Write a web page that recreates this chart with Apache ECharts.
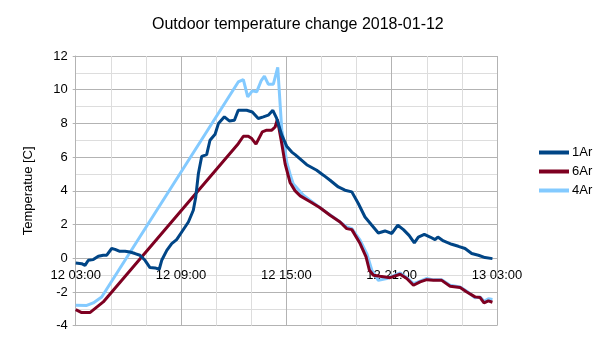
<!DOCTYPE html>
<html><head><meta charset="utf-8">
<script src="https://cdn.jsdelivr.net/npm/echarts@6/dist/echarts.min.js"></script>
<style>html,body{margin:0;padding:0;background:#fff}#c{width:605px;height:340px}</style>
</head><body><div id="c"></div>
<script>
// hours since 12 03:00
const xTickLabels = ['12 03:00','12 09:00','12 15:00','12 21:00','13 03:00'];
const yTicks = [-4,-2,0,2,4,6,8,10,12];

const t1Ar = [0.0,0.34,0.53,0.72,1.0,1.29,1.57,1.77,2.05,2.24,2.48,2.81,3.09,3.38,3.66,3.95,4.23,4.52,4.76,4.90,5.19,5.47,5.75,6.04,6.42,6.70,6.84,6.99,7.18,7.46,7.65,7.94,8.13,8.47,8.75,9.04,9.26,9.74,10.06,10.40,10.69,10.97,11.23,11.45,11.74,12.02,12.31,12.50,13.16,13.73,14.11,14.49,14.96,15.34,15.73,16.10,16.48,16.87,17.24,17.62,18.01,18.35,18.67,18.99,19.29,19.52,19.86,20.19,20.47,20.63,20.95,21.42,21.80,22.18,22.56,22.94,23.32,23.74];
const v1Ar = [-0.28,-0.32,-0.42,-0.12,-0.08,0.12,0.18,0.18,0.58,0.53,0.42,0.42,0.37,0.28,0.18,-0.12,-0.55,-0.57,-0.65,-0.12,0.47,0.87,1.11,1.56,2.15,2.85,3.64,5.03,6.05,6.15,7.0,7.36,7.99,8.39,8.15,8.19,8.78,8.78,8.68,8.29,8.39,8.49,8.78,8.3,7.3,6.65,6.3,6.15,5.55,5.22,4.93,4.63,4.23,4.04,3.94,3.25,2.45,1.96,1.5,1.62,1.47,1.96,1.7,1.36,0.91,1.26,1.42,1.26,1.11,1.26,1.03,0.83,0.71,0.58,0.28,0.18,0.04,-0.02];

const t6Ar = [0.0,0.34,0.81,1.57,9.26,9.55,9.83,10.03,10.27,10.63,10.88,11.17,11.36,11.49,11.74,11.93,12.21,12.50,12.79,13.36,13.92,14.49,15.06,15.44,15.73,16.20,16.54,16.73,16.96,17.34,17.91,18.48,18.86,19.24,19.62,20.0,20.38,20.85,21.33,21.90,22.28,22.75,23.04,23.26,23.51,23.74];
const v6Ar = [-3.05,-3.22,-3.22,-2.59,6.8,7.24,7.24,7.1,6.77,7.5,7.6,7.6,7.79,8.23,6.8,5.6,4.5,4.0,3.7,3.35,3.0,2.55,2.15,1.76,1.7,0.87,0.08,-0.71,-1.01,-1.07,-1.15,-0.95,-1.2,-1.6,-1.4,-1.27,-1.31,-1.31,-1.66,-1.74,-2.0,-2.29,-2.33,-2.65,-2.53,-2.61];

const t4Ar = [0.0,0.63,1.0,1.48,9.26,9.55,9.80,10.06,10.31,10.56,10.75,10.97,11.26,11.51,11.74,11.85,12.02,12.21,12.40,12.97,13.54,14.11,14.87,15.44,15.73,16.20,16.58,16.87,17.24,17.72,18.08,18.48,18.86,19.24,19.62,20.0,20.38,20.85,21.33,21.90,22.28,22.75,23.04,23.26,23.51,23.74];
const v4Ar = [-2.79,-2.8,-2.65,-2.3,10.46,10.6,9.57,9.93,9.87,10.52,10.8,10.33,10.33,11.32,7.6,7.0,5.7,5.0,4.4,3.74,3.3,2.85,2.3,1.86,1.76,1.07,0.28,-0.71,-1.31,-1.2,-1.05,-0.87,-1.15,-1.5,-1.35,-1.2,-1.28,-1.28,-1.6,-1.7,-1.95,-2.35,-2.3,-2.55,-2.4,-2.45];

const zip = (t, v) => t.map((x, i) => [x, v[i]]);
const FONT = '"Liberation Sans", Arial, sans-serif';
const GRID = {left: 75.7, right: 108, top: 56, bottom: 14.3};
const PLOT_H = 340 - GRID.top - GRID.bottom;
const yMin = yTicks[0], yMax = yTicks[yTicks.length - 1];
// place the time axis on the zero line of the value axis
const zeroOffset = -((0 - yMin) / (yMax - yMin)) * PLOT_H;

const chart = echarts.init(document.getElementById('c'), null, {renderer: 'canvas'});
const mkSeries = (name, t, v, color) => ({
  name, type: 'line', data: zip(t, v), showSymbol: false, symbol: 'none',
  lineStyle: {color, width: 3}, itemStyle: {color}, animation: false
});
chart.setOption({
  animation: false,
  title: {text: 'Outdoor temperature change 2018-01-12', left: 147, top: 12,
    textStyle: {fontFamily: FONT, fontSize: 16, fontWeight: 'normal', color: '#000'}},
  legend: {orient: 'vertical', left: 539, top: 146, padding: 0, itemWidth: 30, itemHeight: 4, itemGap: 6,
    icon: 'rect', data: ['1Ar','6Ar','4Ar'],
    textStyle: {fontFamily: FONT, fontSize: 13, color: '#000', padding: [0,0,0,-2]}},
  grid: Object.assign({containLabel: false, outerBoundsMode: 'none'}, GRID),
  xAxis: {type: 'value', min: 0, max: 24, interval: 6, offset: zeroOffset,
    axisLine: {show: true, onZero: false, lineStyle: {color: '#b3b3b3', width: 1}},
    axisTick: {show: false},
    axisLabel: {fontFamily: FONT, fontSize: 13, color: '#000', margin: 11,
      formatter: v => xTickLabels[Math.round(v / 6)] || ''},
    splitLine: {show: true, lineStyle: {color: '#b3b3b3', width: 1}},
    minorTick: {show: false, splitNumber: 3},
    minorSplitLine: {show: true, lineStyle: {color: '#dddddd', width: 1}}},
  yAxis: {type: 'value', min: yMin, max: yMax, interval: 2,
    name: 'Temperatue [C]', nameLocation: 'middle', nameGap: 41, nameRotate: 90,
    nameTextStyle: {fontFamily: FONT, fontSize: 13, color: '#000'},
    axisLine: {show: true, onZero: false, lineStyle: {color: '#b3b3b3'}},
    axisTick: {show: true, length: 3, lineStyle: {color: '#b3b3b3'}},
    axisLabel: {fontFamily: FONT, fontSize: 13, color: '#000', margin: 8},
    splitLine: {show: true, lineStyle: {color: '#b3b3b3', width: 1}},
    minorTick: {show: false, splitNumber: 2},
    minorSplitLine: {show: true, lineStyle: {color: '#dddddd', width: 1}}},
  series: [
    mkSeries('4Ar', t4Ar, v4Ar, '#83caff'),
    mkSeries('6Ar', t6Ar, v6Ar, '#7e0021'),
    mkSeries('1Ar', t1Ar, v1Ar, '#004586')
  ]
});
</script></body></html>
